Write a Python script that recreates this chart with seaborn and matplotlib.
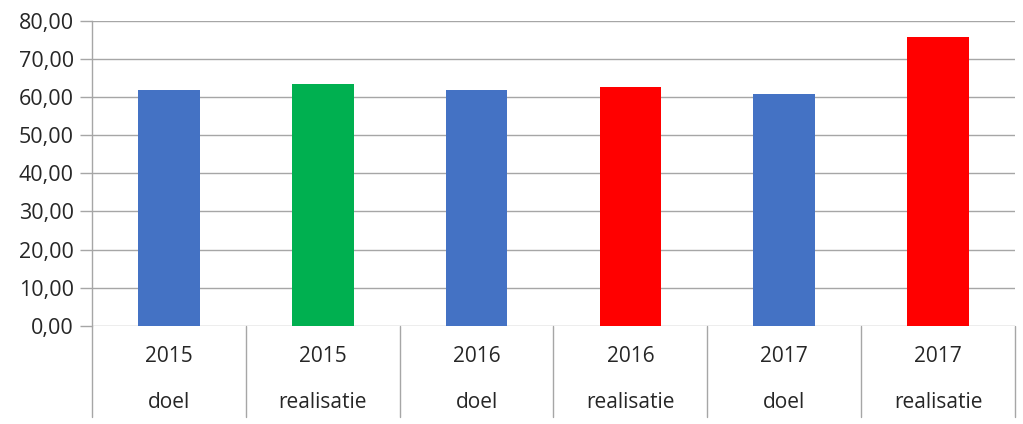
import seaborn as sns
import matplotlib.pyplot as plt
import matplotlib.transforms as mtransforms
from matplotlib.ticker import FuncFormatter
import pandas as pd

years = ['2015', '2015', '2016', '2016', '2017', '2017']
kinds = ['doel', 'realisatie', 'doel', 'realisatie', 'doel', 'realisatie']
values = [61.8, 63.5, 61.8, 62.7, 60.8, 75.7]
colors = ['#4472C4', '#00B050', '#4472C4', '#FF0000', '#4472C4', '#FF0000']

labels = [f'{y} {k}' for y, k in zip(years, kinds)]
df = pd.DataFrame({'label': labels, 'value': values})

sns.set_style('white')
plt.rcParams['font.family'] = ['Open Sans', 'DejaVu Sans']

fig = plt.figure(figsize=(10.23, 4.24), dpi=100)
ax = fig.add_axes([92 / 1023, 98 / 424, 923 / 1023, 305.5 / 424])

sns.barplot(data=df, x='label', y='value', hue='label', palette=colors,
            legend=False, width=0.4, saturation=1, linewidth=0, ax=ax)

ax.set_ylim(0, 80)
ax.set_xlim(-0.5, len(labels) - 0.5)
ax.set_yticks(range(0, 81, 10))
ax.yaxis.set_major_formatter(FuncFormatter(lambda v, p: f'{v:.2f}'.replace('.', ',')))
ax.tick_params(axis='y', labelsize=15.5, colors='#A6A6A6', labelcolor='#262626',
               length=9, width=1, left=True, pad=4)
ax.grid(axis='y', color='#A6A6A6', linewidth=1)
ax.set_axisbelow(True)
ax.set_xlabel('')
ax.set_ylabel('')
ax.set_xticks([])

for side in ['top', 'right', 'bottom']:
    ax.spines[side].set_visible(False)
ax.spines['left'].set_color('#A6A6A6')
ax.spines['left'].set_linewidth(1)

# two-row category labels with separators below the axis
trans = mtransforms.blended_transform_factory(ax.transData, ax.transAxes)
low = -91 / 305.5
for i in range(len(labels) + 1):
    ax.plot([i - 0.5, i - 0.5], [0, low], transform=trans, color='#A6A6A6',
            linewidth=1, clip_on=False)
for i, (y, k) in enumerate(zip(years, kinds)):
    ax.text(i, -31 / 305.5, y, transform=trans, ha='center', va='center',
            fontsize=15, color='#262626')
    ax.text(i, -76 / 305.5, k, transform=trans, ha='center', va='center',
            fontsize=15, color='#262626')

fig.savefig('out.png', dpi=100)
